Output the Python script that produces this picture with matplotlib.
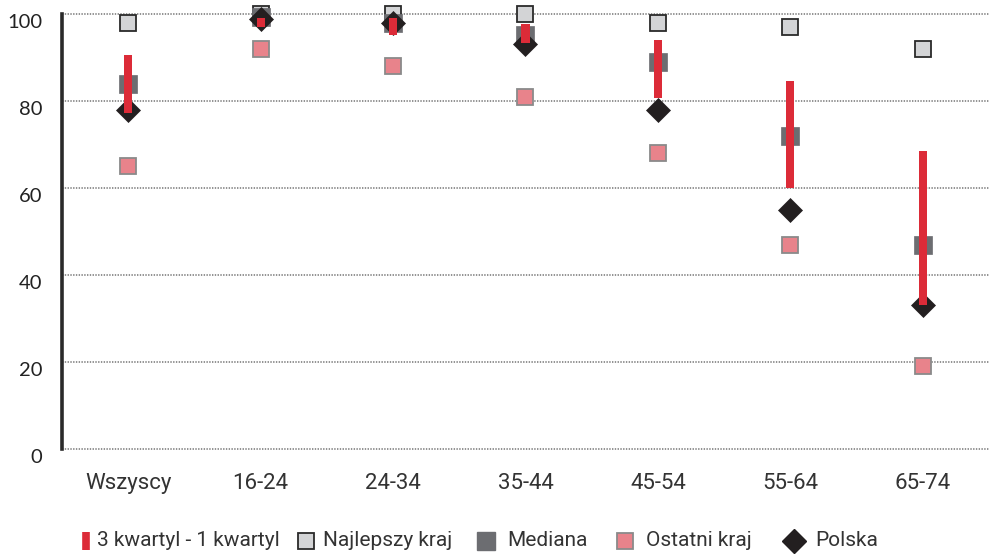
import matplotlib
matplotlib.use("Agg")
import matplotlib.pyplot as plt
from matplotlib.lines import Line2D
from matplotlib.transforms import ScaledTranslation
import numpy as np

categories = ["Wszyscy", "16-24", "24-34", "35-44", "45-54", "55-64", "65-74"]
q3 = [90.5, 99.1, 99.0, 97.7, 94.0, 84.6, 68.4]
q1 = [77.2, 97.0, 95.2, 93.3, 80.6, 60.0, 33.0]
best = [98, 100, 100, 100, 98, 97, 92]
median = [84, 99.2, 98, 95.2, 89, 72, 47]
worst = [65, 92, 88, 81, 68, 47, 19]
polska = [78, 98.8, 98, 93, 78, 55, 33]
yticks = [0, 20, 40, 60, 80, 100]
legend_labels = ["3 kwartyl - 1 kwartyl", "Najlepszy kraj", "Mediana", "Ostatni kraj", "Polska"]

RED = "#dc2b38"
BEST = "#d3d4d6"
MED = "#6c6d71"
WORST = "#e8838b"
DIA = "#231f20"

W, H = 989, 554
fig = plt.figure(figsize=(W/100, H/100), dpi=100)
ax = fig.add_axes([62/W, 1-449/H, 1-62/W, (449-14)/H])
x = np.arange(len(categories))

ax.plot(x, best, ls="none", marker="s", ms=12.2, mfc=BEST, mec="#2a2a2a", mew=1.3, zorder=3, clip_on=False)
ax.plot(x, worst, ls="none", marker="s", ms=12.2, mfc=WORST, mec="#8a8a8a", mew=1.3, zorder=3, clip_on=False)
ax.plot(x, median, ls="none", marker="s", ms=13.5, mfc=MED, mec=MED, mew=0.5, zorder=4, clip_on=False)
ax.plot(x, polska, ls="none", marker="D", ms=12.0, mfc=DIA, mec=DIA, mew=0.5, zorder=5, clip_on=False)
ax.bar(x, np.array(q3)-np.array(q1), bottom=q1, width=0.062, color=RED, zorder=6, clip_on=False)

ax.set_xlim(-0.5, 6.5)
ax.set_ylim(0, 100)
ax.set_yticks(yticks)
ax.set_yticklabels([str(v) for v in yticks], family="Lato", fontsize=14.5, color="#222222")
ax.set_xticks(x)
ax.set_xticklabels(categories, family="Roboto", fontsize=16, color="#333333")
ax.tick_params(axis="both", length=0)
ax.tick_params(axis="y", pad=14)
ax.tick_params(axis="x", pad=17)
for lab in ax.get_yticklabels():
    lab.set_transform(lab.get_transform() + ScaledTranslation(0, -7/100, fig.dpi_scale_trans))

for v in yticks:
    ax.axhline(v, linestyle=(0, (1, 1)), color="#666666", lw=1.0, zorder=0.5, clip_on=False, snap=False)
for s in ["top", "right", "bottom"]:
    ax.spines[s].set_visible(False)
ax.spines["left"].set_linewidth(2.6)
ax.spines["left"].set_color("#2a2a2a")
ax.spines["left"].set_zorder(2)

# legend drawn manually in figure pixel coordinates
ly = 1 - 541/H
handle_specs = [
    dict(marker="|", ms=13, mew=5.5, color=RED),
    dict(marker="s", ms=12.2, mfc=BEST, mec="#2a2a2a", mew=1.3),
    dict(marker="s", ms=13, mfc=MED, mec=MED),
    dict(marker="s", ms=12.2, mfc=WORST, mec="#8a8a8a", mew=1.3),
    dict(marker="D", ms=12, mfc=DIA, mec=DIA),
]
handle_x = [86, 306, 486, 625, 794]
text_x = [97, 323, 507, 646, 815]
for hx, tx, spec, lab in zip(handle_x, text_x, handle_specs, legend_labels):
    fig.add_artist(Line2D([hx/W], [ly], ls="none", transform=fig.transFigure, **spec))
    fig.text(tx/W, ly, lab, ha="left", va="center", family="Roboto", fontsize=15, color="#333333")

fig.savefig("out.png", dpi=100)
